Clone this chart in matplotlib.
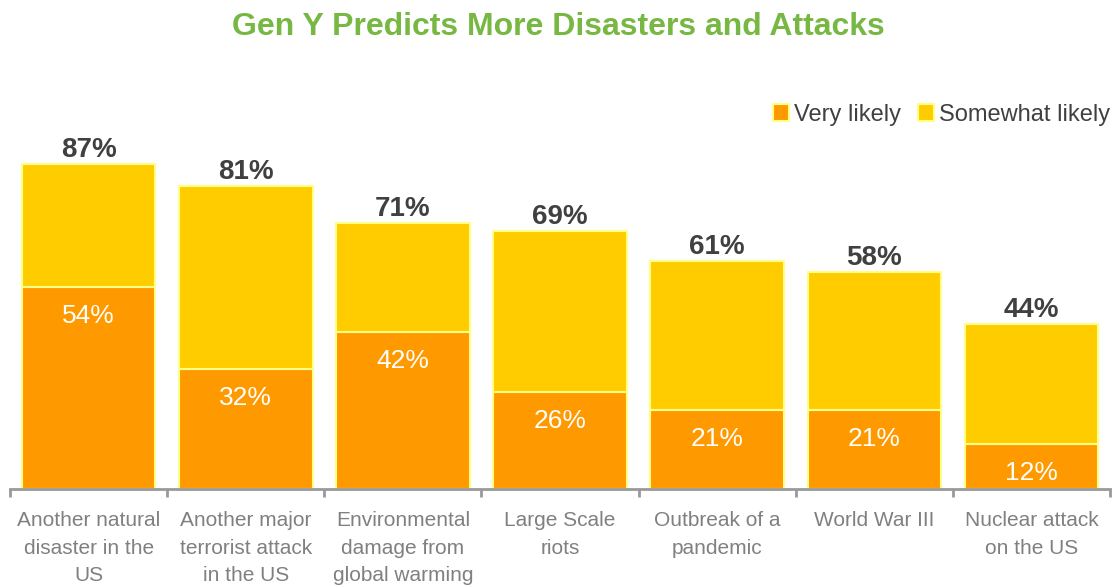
import matplotlib.pyplot as plt
from matplotlib.patches import Patch

categories = ['Another natural\ndisaster in the\nUS', 'Another major\nterrorist attack\nin the US',
              'Environmental\ndamage from\nglobal warming', 'Large Scale\nriots', 'Outbreak of a\npandemic',
              'World War III', 'Nuclear attack\non the US']
very_likely = [54, 32, 42, 26, 21, 21, 12]
total = [87, 81, 71, 69, 61, 58, 44]
somewhat = [t - v for t, v in zip(total, very_likely)]

orange = '#FF9900'
yellow = '#FFCC00'
edge = '#FFFF88'

plt.rcParams['font.family'] = ['Liberation Sans', 'DejaVu Sans']

fig = plt.figure(figsize=(11.16, 5.85), dpi=100)
ax = fig.add_axes([10/1116, 1-489/585, 1100/1116, 389/585])

x = list(range(len(categories)))
ax.bar(x, very_likely, width=0.85, color=orange, edgecolor=edge, linewidth=1.5)
ax.bar(x, somewhat, bottom=very_likely, width=0.85, color=yellow, edgecolor=edge, linewidth=1.5)

for i in x:
    ax.annotate(f'{very_likely[i]}%', (i, very_likely[i]), xytext=(0, -29), textcoords='offset pixels',
                ha='center', va='center', color='white', fontsize=19)
    ax.annotate(f'{total[i]}%', (i, total[i]), xytext=(0, 14), textcoords='offset pixels',
                ha='center', va='center', color='#404040', fontsize=20, fontweight='bold')

ax.set_xlim(-0.5, 6.5)
ax.set_ylim(0, 104)
for s in ['top', 'right', 'left']:
    ax.spines[s].set_visible(False)
ax.spines['bottom'].set_color('#999999')
ax.spines['bottom'].set_linewidth(2)
ax.set_yticks([])
ax.set_xticks([i - 0.5 for i in range(len(categories) + 1)])
ax.set_xticklabels([])
ax.set_xticks(x, minor=True)
ax.set_xticklabels(categories, minor=True, color='#808080', fontsize=15, linespacing=1.56)
ax.tick_params(axis='x', which='major', length=6, width=2, color='#999999')
ax.tick_params(axis='x', which='minor', length=0, pad=16)

handles = [Patch(facecolor=orange, edgecolor=edge, linewidth=1.5, label='Very likely'),
           Patch(facecolor=yellow, edgecolor=edge, linewidth=1.5, label='Somewhat likely')]
fig.legend(handles=handles, loc='center right', bbox_to_anchor=(1.003, 1-115/585), ncol=2, frameon=False,
           fontsize=17, handlelength=0.7, handleheight=0.7, handletextpad=0.2, columnspacing=0.7,
           labelcolor='#404040', borderaxespad=0)

fig.text(0.5, 1-27/585, 'Gen Y Predicts More Disasters and Attacks', ha='center', va='center',
         color='#77B843', fontsize=23, fontweight='bold')

fig.savefig('out.png', dpi=100)
